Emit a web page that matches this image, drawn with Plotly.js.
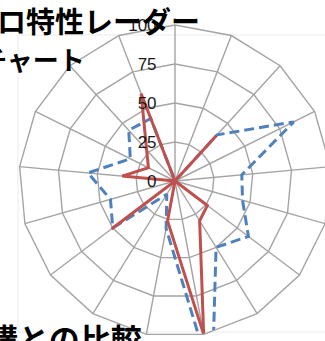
<!DOCTYPE html>
<html>
<head>
<meta charset="utf-8">
<script src="https://cdn.plot.ly/plotly-3.0.1.min.js"></script>
<style>
  html, body { margin: 0; padding: 0; background: #ffffff; overflow: hidden; }
  #frame { position: relative; width: 325px; height: 341px; overflow: hidden; }
  #chart { position: absolute; left: 0; top: 0; width: 400px; height: 400px; }
</style>
</head>
<body>
<div id="frame"><div id="chart"></div></div>
<script>
// 17 radar axes, clockwise from the top
const categories = ['項目1', '項目2', '項目3', '項目4', '項目5', '項目6', '項目7', '項目8', '項目9',
                    '項目10', '項目11', '項目12', '項目13', '項目14', '項目15', '項目16', '項目17'];
// solid red series
const seriesA = [0, 0, 39, 0, 0, 0, 26, 30, 100, 26, 0, 51, 0, 34, 19, 27, 60];
// dashed blue series
const seriesB = [0, 0, 40, 85, 43, 45, 59, 50, 130, 31, 10, 50, 43, 56, 32, 44, 43];
// radial scale
const radialTicks = [0, 25, 50, 75, 100];
const radialLabels = ['0', '25', '50', '75', '100'];

// close each polygon by repeating the first point
const closed = arr => arr.concat([arr[0]]);

const W = 400, H = 400;
const px = x => x / W;          // pixel -> paper x
const py = y => (H - y) / H;    // pixel (from top) -> paper y

const cx = 175, cy = 181, R = 156;

const data = [
  {
    type: 'scatterpolar',
    name: '系列2',
    r: closed(seriesB),
    theta: closed(categories),
    mode: 'lines',
    line: { color: '#4f81bd', width: 3, dash: '10px,5px' },
    hoverinfo: 'skip'
  },
  {
    type: 'scatterpolar',
    name: '系列1',
    r: closed(seriesA),
    theta: closed(categories),
    mode: 'lines',
    line: { color: '#c0504d', width: 3 },
    hoverinfo: 'skip'
  }
];

const gridColor = '#a4a4a4';

const layout = {
  width: W,
  height: H,
  margin: { l: 0, r: 0, t: 0, b: 0 },
  paper_bgcolor: '#ffffff',
  showlegend: false,
  polar: {
    domain: { x: [px(cx - R), px(cx + R)], y: [py(cy + R), py(cy - R)] },
    bgcolor: 'rgba(0,0,0,0)',
    gridshape: 'linear',
    radialaxis: {
      range: [0, 100],
      tickvals: radialTicks,
      ticktext: radialLabels,
      angle: 90,
      tickangle: 90,
      side: 'counterclockwise',
      showline: false,
      ticks: 'outside',
      ticklen: 12,
      tickcolor: 'rgba(0,0,0,0)',
      gridcolor: gridColor,
      gridwidth: 1.4,
      tickfont: { family: 'Liberation Sans, Arial, sans-serif', size: 17, color: '#1a1a1a' }
    },
    angularaxis: {
      type: 'category',
      categoryarray: categories,
      rotation: 90,
      direction: 'clockwise',
      showticklabels: false,
      ticks: '',
      showline: true,
      linecolor: gridColor,
      linewidth: 1.4,
      gridcolor: gridColor,
      gridwidth: 1.4
    }
  },
  shapes: [
    {
      type: 'rect', xref: 'paper', yref: 'paper',
      x0: px(18), x1: px(332), y0: py(332), y1: py(35),
      line: { color: '#ebebeb', width: 1 }, layer: 'below'
    }
  ],
  annotations: [
    {
      text: '<b>ロ特性レーダー</b>',
      xref: 'paper', yref: 'paper', x: px(-5), y: py(20),
      xanchor: 'left', yanchor: 'middle', showarrow: false,
      font: { family: 'Noto Sans CJK JP, sans-serif', size: 29, color: '#000000' }
    },
    {
      text: '<b>チャート</b>',
      xref: 'paper', yref: 'paper', x: px(87), y: py(59),
      xanchor: 'right', yanchor: 'middle', showarrow: false,
      font: { family: 'Noto Sans CJK JP, sans-serif', size: 26, color: '#000000' }
    },
    {
      text: '<b>構との比較</b>',
      xref: 'paper', yref: 'paper', x: px(144), y: py(337),
      xanchor: 'right', yanchor: 'middle', showarrow: false,
      font: { family: 'Noto Sans CJK JP, sans-serif', size: 31, color: '#000000' }
    }
  ]
};

Plotly.newPlot('chart', data, layout, { displayModeBar: false, staticPlot: true });
</script>
</body>
</html>
